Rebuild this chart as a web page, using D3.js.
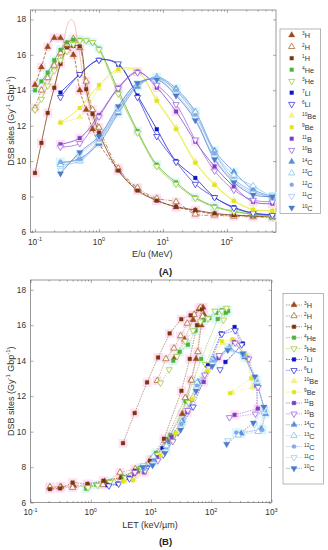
<!DOCTYPE html>
<html><head><meta charset="utf-8">
<script src="https://cdn.jsdelivr.net/npm/d3@7"></script>
<style>
body{margin:0;background:#fff}
svg{display:block}
text{font-family:"Liberation Sans",Arial,Helvetica,sans-serif}
</style>
</head><body>
<svg id="c" width="328" height="550"></svg>
<script>
// ---------- DATA ----------
const isotopes = ["3H","2H","1H","4He","3He","7Li","6Li","10Be","9Be","11B","10B","14C","13C","12C","11C","10C"];
const E_light = [0.1,0.126,0.158,0.2,0.251,0.316,0.398,0.501,0.631,0.794,1,2,4,8,16,32,64,128,256,512];
const E_heavy = [0.25,0.5,1,2,4,8,16,32,64,128,256,512];
const yTicks = [6,8,10,12,14,16,18];
const xTicksA = [0.1,1,10,100];
const xTicksB = [0.1,1,10,100,1000];
const xTickLabelsA = ["-1","0","1","2"];
const xTickLabelsB = ["-1","0","1","2","3"];

// Panel A: DSB vs E/u
const A_3H  = [14.3,15.3,16.45,16.96,16.95,16.5,16.0,14.0,12.9,11.8,11.0,9.5,8.4,7.8,7.4,7.2,7.0,6.95,6.9,6.85];
const A_2H  = [13.0,14.0,14.7,15.4,16.1,16.6,16.9,16.4,14.5,12.9,11.9,9.6,8.5,7.9,7.7,7.0,6.95,6.88,6.85,6.82];
const A_1H  = [9.33,11.03,12.72,14.14,15.49,16.3,16.5,16.47,14.06,12.66,11.6,9.47,8.34,7.77,7.43,7.24,7.05,6.95,6.9,6.85];
const A_4He = [14.0,14.5,15.0,15.7,16.28,16.7,16.85,16.85,16.8,16.7,16.35,14.0,11.7,9.8,8.8,7.95,7.45,7.17,7.0,6.9];
const A_3He = [12.9,13.5,14.25,15.1,15.7,16.2,16.6,16.8,16.8,16.7,16.3,13.8,11.6,9.7,8.7,7.9,7.4,7.15,6.98,6.85];
const A_7Li = [13.87,14.9,15.72,15.45,13.7,11.8,10.0,9.05,7.96,7.4,7.07,6.98];
const A_6Li = [13.6,14.9,15.7,15.5,13.6,11.4,9.95,8.7,7.95,7.35,7.05,6.95];
const A_10Be= [12.2,12.5,14.1,15.1,15.0,13.5,11.9,10.0,8.7,7.8,7.3,7.2];
const A_9Be = [12.17,13.0,14.3,15.2,15.1,13.4,11.8,9.9,8.65,7.75,7.25,7.2];
const A_11B = [10.95,11.3,12.6,14.15,15.05,14.15,12.8,11.1,9.7,8.56,7.7,7.6];
const A_10B = [10.8,11.0,12.5,14.1,15.0,14.3,13.2,11.2,9.45,8.37,7.8,7.71];
const A_14C = [9.9,10.15,11.0,12.7,14.2,14.75,14.1,12.8,10.6,9.4,8.4,8.0];
const A_13C = [9.8,10.0,11.1,12.8,14.3,14.7,14.0,12.75,10.5,9.2,8.6,7.95];
const A_12C = [9.95,10.1,11.2,12.9,14.3,14.7,13.95,12.6,10.45,8.98,8.3,7.9];
const A_11C = [9.5,10.4,11.3,13.0,14.4,14.65,13.8,12.4,10.2,8.9,8.19,8.09];
const A_10C = [9.3,10.5,11.4,13.1,14.4,14.6,13.7,12.3,10.1,8.8,8.1,8.0];
// pale fitted curve around the 1H peak
const E_fit1H = [0.2,0.25,0.29,0.33,0.37,0.41,0.45,0.5,0.6,0.8,1.0];
const A_fit1H = [14.0,15.8,17.0,17.8,18.0,17.8,17.0,16.0,14.2,12.3,11.3];

// Panel B: DSB vs LET
const B_3H_let = [24.7,36,50,62,73,76,68,56,46,39,33,18.5,10.3,5.7,3.2,1.7,0.9,0.52,0.32,0.21];
const B_3H     = [14.17,15.2,16.3,16.9,17.0,16.6,16.0,14.1,12.9,11.8,11.0,9.5,8.4,7.8,7.4,7.2,7.0,6.95,6.9,6.85];
const B_2H_let = [12.7,17.7,24,31,40,52,66,72,60,47,37,17.5,10,5.5,3.06,1.6,0.88,0.5,0.31,0.21];
const B_2H     = [12.87,14.1,14.7,15.4,16.1,16.6,17.0,16.5,14.5,12.9,11.9,9.5,8.45,7.9,7.7,7.0,6.95,6.85,6.87,6.88];
const B_1H_let = [3.43,5.36,8.6,13.1,20.4,31.8,45.5,70,58,44,32,16.4,9.6,5.4,3.2,1.62,0.88,0.5,0.31,0.21];
const B_1H     = [9.35,11.05,12.78,14.18,15.54,16.34,16.56,16.9,16.0,14.1,12.3,9.6,8.36,7.8,7.43,7.23,7.05,7.13,6.8,6.76];
const B_4He_let= [23.4,30,41,55,75,93,121,150,190,175,128,68,38,21,12,6.5,3.5,2.0,1.24,0.84];
const B_4He    = [14.0,14.5,14.9,15.7,16.28,16.4,16.7,16.85,16.8,16.7,16.35,14.1,11.7,9.8,8.8,7.95,7.45,7.17,7.0,6.78];
const B_3He_let= [14.4,20,27,37,50,66,88,115,150,180,160,80,42,23,13,7,3.8,2.1,1.3,0.9];
const B_3He    = [12.75,13.5,14.25,15.1,15.7,16.2,16.37,16.8,16.8,16.97,16.3,13.8,11.65,9.7,8.7,7.9,7.4,7.15,6.98,6.85];
const B_7Li_let= [172,335,244,146,88,48,27.3,15.5,8.3,4.3,2.8,1.9];
const B_7Li    = [13.93,14.97,15.9,15.54,13.74,11.8,9.96,9.07,7.96,7.4,7.07,6.98];
const B_6Li_let= [140,320,250,150,90,50,28,16,8.5,4.4,2.9,2.0];
const B_6Li    = [13.5,14.9,15.7,15.5,13.6,11.4,9.95,8.7,7.95,7.35,7.05,6.95];
const B_10Be_let=[225,480,400,240,155,88,50,27,14.5,8.3,5.2,3.6];
const B_9Be_let= [205,460,380,225,150,85,48,26,14,8,5,3.47];
const B_11B_let= [244,595,556,400,240,132,75,40,22,12.5,7.75,5.25];
const B_10B_let= [200,540,600,420,250,135,78,41,23,13,8,5.4];
const B_14C_let= [314,676,800,580,360,200,110,60,33,18.5,11.3,7.8];
const B_13C_let= [280,600,760,570,350,195,107,58,32,18,11,7.6];
const B_12C_let= [260,700,780,560,350,195,108,58,32,18,11,7.6];
const B_11C_let= [189,520,765,540,340,190,105,57,31,17.5,10.8,7.4];
const B_10C_let= [180,500,750,530,335,188,104,56,31,17,10.6,7.3];

// ---------- SERIES TABLE ----------
const PINK = "#ffd9f1", CYAN = "#d6f7fb";
const S = [
 {mass:"3", el:"H",  shape:"up",   fill:true,  c:"#9c4a1c", h:PINK, eA:E_light, yA:A_3H,  xB:B_3H_let,  yB:B_3H,  dash:"3,1.5"},
 {mass:"2", el:"H",  shape:"up",   fill:false, c:"#a8702c", h:PINK, eA:E_light, yA:A_2H,  xB:B_2H_let,  yB:B_2H,  dash:"4,1.5,1,1.5"},
 {mass:"1", el:"H",  shape:"sq",   fill:true,  c:"#7a3510", h:PINK, eA:E_light, yA:A_1H,  xB:B_1H_let,  yB:B_1H,  dash:null},
 {mass:"4", el:"He", shape:"sq",   fill:true,  c:"#4fb234", h:CYAN, eA:E_light, yA:A_4He, xB:B_4He_let, yB:B_4He, dash:null},
 {mass:"3", el:"He", shape:"down", fill:false, c:"#9fcc3a", h:null, eA:E_light, yA:A_3He, xB:B_3He_let, yB:B_3He, dash:null},
 {mass:"7", el:"Li", shape:"sq",   fill:true,  c:"#0a14c8", h:null, eA:E_heavy, yA:A_7Li, xB:B_7Li_let, yB:B_7Li, dash:null},
 {mass:"6", el:"Li", shape:"down", fill:false, c:"#3b3bdc", h:null, eA:E_heavy, yA:A_6Li, xB:B_6Li_let, yB:B_6Li, dash:null},
 {mass:"10",el:"Be", shape:"up",   fill:true,  c:"#f2f28a", h:null, eA:E_heavy, yA:A_10Be,xB:B_10Be_let,yB:A_10Be,dash:null},
 {mass:"9", el:"Be", shape:"sq",   fill:true,  c:"#e4e41a", h:null, eA:E_heavy, yA:A_9Be, xB:B_9Be_let, yB:A_9Be, dash:null},
 {mass:"11",el:"B",  shape:"sq",   fill:true,  c:"#7a3ec4", h:PINK, eA:E_heavy, yA:A_11B, xB:B_11B_let, yB:A_11B, dash:null},
 {mass:"10",el:"B",  shape:"down", fill:false, c:"#9a68de", h:null, eA:E_heavy, yA:A_10B, xB:B_10B_let, yB:A_10B, dash:null},
 {mass:"14",el:"C",  shape:"up",   fill:true,  c:"#5a8cd8", h:CYAN, eA:E_heavy, yA:A_14C, xB:B_14C_let, yB:A_14C, dash:null},
 {mass:"13",el:"C",  shape:"up",   fill:false, c:"#86c6ea", h:null, eA:E_heavy, yA:A_13C, xB:B_13C_let, yB:A_13C, dash:null},
 {mass:"12",el:"C",  shape:"circ", fill:true,  c:"#86a6e6", h:CYAN, eA:E_heavy, yA:A_12C, xB:B_12C_let, yB:A_12C, dash:null},
 {mass:"11",el:"C",  shape:"down", fill:false, c:"#a6c6f0", h:null, eA:E_heavy, yA:A_11C, xB:B_11C_let, yB:A_11C, dash:null},
 {mass:"10",el:"C",  shape:"down", fill:true,  c:"#4a7ccc", h:null, eA:E_heavy, yA:A_10C, xB:B_10C_let, yB:A_10C, dash:null}
];

const svg = d3.select("#c");
const axisCol = "#555";

function halo(g, s, px, py) {
  if (!s.h) return;
  g.append("rect").attr("x", px - 4.5).attr("y", py - 4.5).attr("width", 9).attr("height", 9)
    .attr("fill", s.h).attr("opacity", 0.75);
}
function marker(g, s, px, py) {
  let type = d3.symbolSquare, size = 14, rot = 0;
  if (s.shape === "up") { type = d3.symbolTriangle; size = 17; }
  if (s.shape === "down") { type = d3.symbolTriangle; size = 17; rot = 180; }
  if (s.shape === "circ") { type = d3.symbolCircle; size = 13; }
  g.append("path")
    .attr("d", d3.symbol().type(type).size(size)())
    .attr("transform", `translate(${px},${py}) rotate(${rot})`)
    .attr("fill", s.fill ? s.c : "#fff")
    .attr("stroke", s.c)
    .attr("stroke-width", s.fill ? 0.3 : 0.8);
}

function supText(g, x, y, parts, size, anchor) {
  const t = g.append("text").attr("x", x).attr("y", y).attr("font-size", size)
    .attr("fill", "#333").attr("text-anchor", anchor || "start");
  let up = false;
  parts.forEach(([txt, sup]) => {
    const ts = t.append("tspan").text(txt);
    if (sup && !up) { ts.attr("dy", -size * 0.4).attr("font-size", size * 0.66); up = true; }
    else if (sup) { ts.attr("font-size", size * 0.66); }
    else if (!sup && up) { ts.attr("dy", size * 0.4); up = false; }
  });
  return t;
}

function drawPanel(cfg) {
  const g = svg.append("g");
  const x = d3.scaleLog().domain(cfg.xd).range([cfg.l, cfg.r]);
  const y = d3.scaleLinear().domain([6, cfg.ytop]).range([cfg.b, cfg.t]);

  const lo = Math.floor(Math.log10(cfg.xd[0])), hi = Math.ceil(Math.log10(cfg.xd[1]));
  const minors = [];
  for (let p = lo; p <= hi; p++) for (let m = 2; m <= 9; m++) {
    const v = m * Math.pow(10, p);
    if (v >= cfg.xd[0] && v <= cfg.xd[1]) minors.push(v);
  }
  const ax = (gen, tx, ty) => g.append("g").attr("transform", `translate(${tx},${ty})`).call(gen)
      .call(a => { a.select(".domain").remove(); a.selectAll("line").attr("stroke", axisCol).attr("stroke-width", 0.5); a.selectAll("text").remove(); });
  ax(d3.axisBottom(x).tickValues(cfg.xt).tickSizeInner(-3).tickSizeOuter(0), 0, cfg.b);
  ax(d3.axisTop(x).tickValues(cfg.xt).tickSizeInner(-3).tickSizeOuter(0), 0, cfg.t);
  ax(d3.axisBottom(x).tickValues(minors).tickSizeInner(-1.6).tickSizeOuter(0), 0, cfg.b);
  ax(d3.axisTop(x).tickValues(minors).tickSizeInner(-1.6).tickSizeOuter(0), 0, cfg.t);
  ax(d3.axisLeft(y).tickValues(yTicks).tickSizeInner(-3).tickSizeOuter(0), cfg.l, 0);
  ax(d3.axisRight(y).tickValues(yTicks).tickSizeInner(-3).tickSizeOuter(0), cfg.r, 0);

  g.append("rect").attr("x", cfg.l).attr("y", cfg.t).attr("width", cfg.r - cfg.l).attr("height", cfg.b - cfg.t)
    .attr("fill", "none").attr("stroke", axisCol).attr("stroke-width", 0.6);

  yTicks.forEach(v => g.append("text").attr("x", cfg.l - 4.5).attr("y", y(v) + 3).attr("text-anchor", "end")
    .attr("font-size", 8.3).attr("fill", "#333").text(v));
  cfg.xt.forEach((v, i) => supText(g, x(v), cfg.b + 12.5, [["10", false], [cfg.xl[i], true]], 8.3, "middle"));

  g.append("text").attr("x", (cfg.l + cfg.r) / 2 - 1).attr("y", cfg.b + 25).attr("text-anchor", "middle")
    .attr("font-size", 9).attr("fill", "#333").text(cfg.xtitle);
  const yl = supText(g, 0, 0, [["DSB sites (Gy", false], ["-1", true], [" Gbp", false], ["-1", true], [")", false]], 9, "middle");
  yl.attr("transform", `translate(14,${(cfg.t + cfg.b) / 2}) rotate(-90)`);

  g.append("text").attr("x", 165.5).attr("y", cfg.b + 42.5).attr("text-anchor", "middle")
    .attr("font-family", "'Liberation Serif','Times New Roman',serif").attr("font-weight", "bold")
    .attr("font-size", 9.5).attr("fill", "#222").text(cfg.tag);

  const halos = g.append("g");
  return {g, x, y, halos};
}

// ---------- PANEL A ----------
const PA = drawPanel({l:30.5, r:276, t:10, b:232, xd:[0.0851, 583], ytop:18.53, xt:xTicksA, xl:xTickLabelsA, xtitle:"E/u (MeV)", tag:"(A)"});
S.forEach(s => d3.zip(s.eA, s.yA).forEach(d => halo(PA.halos, s, PA.x(d[0]), PA.y(d[1]))));
const plotA = PA.g.append("g");
const lineA = d3.line().x(d => PA.x(d[0])).y(d => PA.y(d[1])).curve(d3.curveCatmullRom.alpha(0.5));
plotA.append("path").attr("d", lineA(d3.zip(E_fit1H, A_fit1H))).attr("fill", "none")
  .attr("stroke", "#efb9ab").attr("stroke-width", 0.8);
S.forEach(s => {
  plotA.append("path").attr("d", lineA(d3.zip(s.eA, s.yA))).attr("fill", "none")
    .attr("stroke", s.c).attr("stroke-width", 0.75).attr("stroke-dasharray", s.dash);
});
S.forEach(s => d3.zip(s.eA, s.yA).forEach(d => marker(plotA, s, PA.x(d[0]), PA.y(d[1]))));

// ---------- PANEL B ----------
const PB = drawPanel({l:30.5, r:271.5, t:280, b:502.6, xd:[0.1, 1000], ytop:18.55, xt:xTicksB, xl:xTickLabelsB, xtitle:"LET (keV/\u00b5m)", tag:"(B)"});
S.forEach(s => d3.zip(s.xB, s.yB).forEach(d => halo(PB.halos, s, PB.x(d[0]), PB.y(d[1]))));
const plotB = PB.g.append("g");
const lineB = d3.line().x(d => PB.x(d[0])).y(d => PB.y(d[1]));
S.forEach(s => {
  plotB.append("path").attr("d", lineB(d3.zip(s.xB, s.yB))).attr("fill", "none")
    .attr("stroke", s.c).attr("stroke-width", 0.6).attr("stroke-dasharray", "1.6,1").attr("opacity", 0.8);
});
S.forEach(s => d3.zip(s.xB, s.yB).forEach(d => marker(plotB, s, PB.x(d[0]), PB.y(d[1]))));

// ---------- LEGENDS ----------
function legend(box, y0, dy, withLine, mx, tx) {
  const g = svg.append("g");
  g.append("rect").attr("x", box[0]).attr("y", box[1]).attr("width", box[2]).attr("height", box[3])
    .attr("fill", "#fff").attr("stroke", "#888").attr("stroke-width", 0.6);
  S.forEach((s, i) => {
    const yy = y0 + i * dy;
    if (withLine) g.append("line").attr("x1", mx - 8).attr("x2", mx + 8).attr("y1", yy).attr("y2", yy)
      .attr("stroke", s.c).attr("stroke-width", 0.6).attr("stroke-dasharray", "1.5,1");
    marker(g, s, mx, yy);
    supText(g, tx, yy + 3, [[s.mass, true], [s.el, false]], 7.3, "start");
  });
}
legend([280, 29, 40.7, 184.3], 35.2, 11.5, false, 291.7, 302);
legend([283, 293.3, 40.3, 190.7], 305, 10.89, true, 294, 304);
</script>
</body></html>
